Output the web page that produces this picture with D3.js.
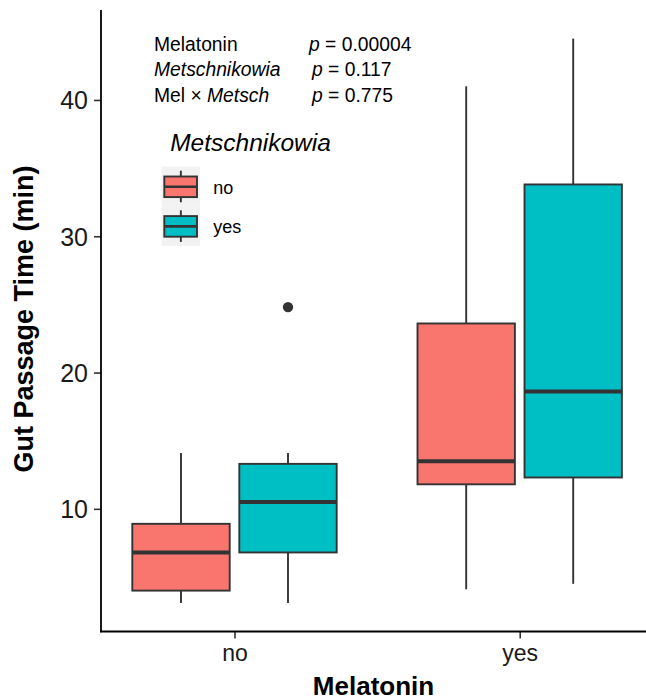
<!DOCTYPE html>
<html>
<head>
<meta charset="utf-8">
<script src="https://cdn.jsdelivr.net/npm/d3@7"></script>
<style>
  html, body { margin: 0; padding: 0; background: #fff; }
  svg { display: block; font-family: "Liberation Sans", Arial, Helvetica, sans-serif; }
</style>
</head>
<body>
<div id="chart"></div>
<script>
// Melatonin x Metschnikowia boxplot data
const melatonin = ["no", "yes"]
const metsch = ["no", "yes"]
const groupMel = ["no", "no", "yes", "yes"]
const groupMet = ["no", "yes", "no", "yes"]
const whiskerLow = [3.1, 3.1, 4.1, 4.5]
const q1 = [4.0, 6.8, 11.8, 12.3]
const median = [6.8, 10.5, 13.5, 18.6]
const q3 = [8.9, 13.3, 23.6, 33.8]
const whiskerHigh = [14.1, 14.1, 41.0, 44.5]
const outlierMel = ["no"]
const outlierMet = ["yes"]
const outlierVal = [24.8]
const yTicks = [10, 20, 30, 40]

const FILL = { no: "#F8766D", yes: "#00BFC4" }
const LINE = "#333333"

const width = 646, height = 700
const svg = d3.select("#chart").append("svg")
  .attr("width", width)
  .attr("height", height)

const panel = { left: 101, right: 646, top: 10, bottom: 631.5 }

const y = d3.scaleLinear().domain([1.0, 46.6]).range([panel.bottom, panel.top])
const x = d3.scalePoint().domain(melatonin).range([234.5, 519.7])
const dodge = d3.scaleBand().domain(metsch).range([-107, 107])
const boxW = dodge.bandwidth() * 0.91

const groups = groupMel.map((m, i) => ({
  mel: m, met: groupMet[i],
  lo: whiskerLow[i], q1: q1[i], med: median[i], q3: q3[i], hi: whiskerHigh[i]
}))
const cx = d => x(d.mel) + dodge(d.met) + dodge.bandwidth() / 2

// Boxes
const g = svg.append("g")
g.selectAll("line.whisker-hi")
  .data(groups).enter().append("line")
  .attr("x1", cx).attr("x2", cx)
  .attr("y1", d => y(d.q3)).attr("y2", d => y(d.hi))
  .attr("stroke", LINE).attr("stroke-width", 1.9)
g.selectAll("line.whisker-lo")
  .data(groups).enter().append("line")
  .attr("x1", cx).attr("x2", cx)
  .attr("y1", d => y(d.q1)).attr("y2", d => y(d.lo))
  .attr("stroke", LINE).attr("stroke-width", 1.9)
g.selectAll("rect.box")
  .data(groups).enter().append("rect")
  .attr("x", d => cx(d) - boxW / 2)
  .attr("width", boxW)
  .attr("y", d => y(d.q3))
  .attr("height", d => y(d.q1) - y(d.q3))
  .attr("fill", d => FILL[d.met])
  .attr("stroke", LINE).attr("stroke-width", 1.9)
g.selectAll("line.median")
  .data(groups).enter().append("line")
  .attr("x1", d => cx(d) - boxW / 2).attr("x2", d => cx(d) + boxW / 2)
  .attr("y1", d => y(d.med)).attr("y2", d => y(d.med))
  .attr("stroke", LINE).attr("stroke-width", 4)

// Outliers
g.selectAll("circle.outlier")
  .data(outlierVal.map((v, i) => ({ mel: outlierMel[i], met: outlierMet[i], v })))
  .enter().append("circle")
  .attr("cx", cx).attr("cy", d => y(d.v))
  .attr("r", 5.2).attr("fill", LINE)

// Axes
const yAxis = svg.append("g")
  .attr("transform", `translate(${panel.left},0)`)
  .call(d3.axisLeft(y).tickValues(yTicks).tickSize(7).tickPadding(6))
yAxis.select(".domain").remove()
yAxis.selectAll(".tick line").attr("stroke", LINE).attr("stroke-width", 1.6)
yAxis.selectAll(".tick text")
  .attr("font-size", 25).attr("fill", "#1a1a1a").attr("font-family", null)
  .attr("dy", "0.36em")

const xAxis = svg.append("g")
  .attr("transform", `translate(0,${panel.bottom})`)
  .call(d3.axisBottom(x).tickSize(7).tickPadding(6))
xAxis.select(".domain").remove()
xAxis.selectAll(".tick line").attr("stroke", LINE).attr("stroke-width", 1.6)
xAxis.selectAll(".tick text")
  .attr("font-size", 23).attr("fill", "#1a1a1a").attr("font-family", null)
  .attr("dy", "0.72em")

svg.append("line")
  .attr("x1", panel.left).attr("x2", panel.left)
  .attr("y1", panel.top).attr("y2", panel.bottom + 0.8)
  .attr("stroke", "#000").attr("stroke-width", 1.8)
svg.append("line")
  .attr("x1", panel.left - 0.9).attr("x2", panel.right)
  .attr("y1", panel.bottom).attr("y2", panel.bottom)
  .attr("stroke", "#000").attr("stroke-width", 1.8)

// Axis titles
svg.append("text")
  .attr("x", (panel.left + panel.right) / 2).attr("y", 695)
  .attr("text-anchor", "middle")
  .attr("font-size", 26).attr("font-weight", "bold")
  .text("Melatonin")
svg.append("text")
  .attr("transform", `translate(33,319) rotate(-90)`)
  .attr("text-anchor", "middle")
  .attr("font-size", 27).attr("font-weight", "bold")
  .text("Gut Passage Time (min)")

// Stats annotation
const ann = svg.append("g").attr("font-size", 19.3).attr("fill", "#000")
const a1 = ann.append("text").attr("x", 154).attr("y", 51)
a1.append("tspan").text("Melatonin")
const a1p = ann.append("text").attr("x", 309).attr("y", 51)
a1p.append("tspan").attr("font-style", "italic").text("p")
a1p.append("tspan").text(" = 0.00004")

ann.append("text").attr("x", 154).attr("y", 76)
  .attr("font-style", "italic").text("Metschnikowia")
const a2p = ann.append("text").attr("x", 312).attr("y", 76)
a2p.append("tspan").attr("font-style", "italic").text("p")
a2p.append("tspan").text(" = 0.117")

const a3 = ann.append("text").attr("x", 154).attr("y", 102)
a3.append("tspan").text("Mel \u00d7 ")
a3.append("tspan").attr("font-style", "italic").text("Metsch")
const a3p = ann.append("text").attr("x", 312).attr("y", 102)
a3p.append("tspan").attr("font-style", "italic").text("p")
a3p.append("tspan").text(" = 0.775")

// Legend
const leg = svg.append("g").attr("transform", "translate(161.7,166.7)")
leg.append("text")
  .attr("x", 8.5).attr("y", -15.7)
  .attr("font-size", 24.5).attr("font-style", "italic")
  .text("Metschnikowia")
const keyH = 39.6, keyW = 38.3
const key = leg.selectAll("g.key")
  .data(metsch).enter().append("g")
  .attr("transform", (d, i) => `translate(0,${i * keyH})`)
key.append("rect")
  .attr("width", keyW).attr("height", keyH)
  .attr("fill", "#F2F2F2")
key.append("line")
  .attr("x1", keyW / 2).attr("x2", keyW / 2)
  .attr("y1", 4).attr("y2", keyH - 4)
  .attr("stroke", LINE).attr("stroke-width", 1.9)
key.append("rect")
  .attr("x", 2.6).attr("width", keyW - 5.6)
  .attr("y", keyH / 2 - 10).attr("height", 20.6)
  .attr("fill", d => FILL[d])
  .attr("stroke", LINE).attr("stroke-width", 1.9)
key.append("line")
  .attr("x1", 2.6).attr("x2", keyW - 3)
  .attr("y1", keyH / 2 + 0.3).attr("y2", keyH / 2 + 0.3)
  .attr("stroke", LINE).attr("stroke-width", 2.6)
key.append("text")
  .attr("x", 51.5).attr("y", (d, i) => 27.3 - i * 0.6)
  .attr("font-size", 18)
  .text(d => d)
</script>
</body>
</html>
